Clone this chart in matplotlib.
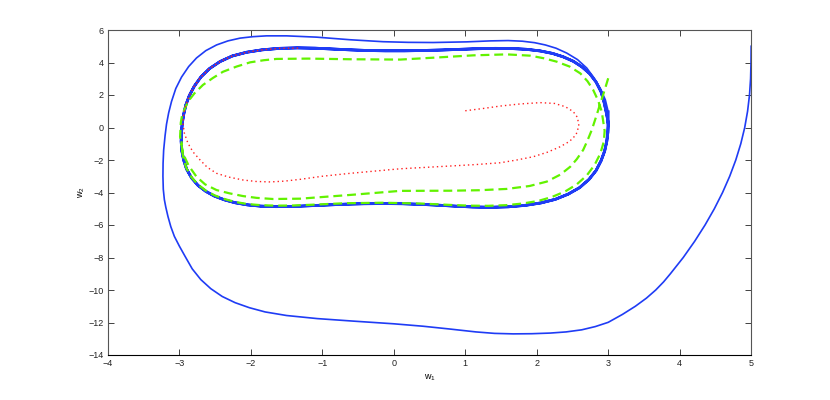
import matplotlib
matplotlib.use("Agg")
import matplotlib.pyplot as plt
import numpy as np

plt.rcParams['font.family'] = ['Liberation Sans', 'DejaVu Sans']
plt.rcParams['mathtext.default'] = 'regular'

# blue trajectory: approach from (5,5)
blue_approach_x = [5.00, 4.998, 4.992, 4.977, 4.95, 4.91, 4.855, 4.785, 4.70, 4.60, 4.485, 4.355, 4.21,
                   4.05, 3.87, 3.775, 3.665, 3.535, 3.38, 3.20, 3.00,
                   2.82, 2.63, 2.41, 2.19, 1.93, 1.67, 1.41, 1.15, 0.78, 0.41, 0.00,
                   -0.55, -1.07, -1.50, -1.80, -2.02, -2.22, -2.40, -2.56, -2.70, -2.82, -2.92, -3.00, -3.07,
                   -3.12, -3.16, -3.19, -3.21, -3.225, -3.23, -3.228, -3.22, -3.20, -3.18, -3.15, -3.11,
                   -3.05, -2.97, -2.87, -2.76, -2.63, -2.48, -2.32, -2.15, -1.97, -1.78, -1.50, -1.08,
                   -0.61, -0.15, 0.20, 0.55, 1.02, 1.35, 1.60, 1.80, 1.97, 2.12, 2.27, 2.42, 2.57, 2.70,
                   2.80, 2.89, 2.96, 3.00]
blue_approach_y = [5.00, 4.00, 3.00, 2.00, 1.00, 0.00, -1.00, -2.00, -3.00, -4.00, -5.00, -6.00, -7.00,
                   -8.00, -9.00, -9.50, -10.00, -10.50, -11.00, -11.50, -11.99,
                   -12.25, -12.45, -12.58, -12.65, -12.69, -12.70, -12.67, -12.58,
                   -12.40, -12.23, -12.08, -11.92, -11.76, -11.57, -11.35, -11.09, -10.78, -10.40, -9.92,
                   -9.36, -8.70, -7.93, -7.30, -6.70, -6.10, -5.47, -4.90, -4.44, -3.80, -3.00, -2.20,
                   -1.40, -0.50, 0.20, 0.90, 1.60, 2.40, 3.10, 3.75, 4.28, 4.73, 5.08, 5.33, 5.50, 5.59,
                   5.64, 5.64, 5.56, 5.40, 5.28, 5.24, 5.23, 5.27, 5.33, 5.35, 5.31, 5.22, 5.08, 4.88,
                   4.58, 4.18, 3.66, 3.06, 2.40, 1.70, 0.97]

# blue limit cycle (clockwise, starting on the right side)
cycle_x = [3.00, 2.995, 2.98, 2.95, 2.90, 2.83, 2.73, 2.60, 2.44, 2.26, 2.06, 1.84, 1.60, 1.35, 1.10, 0.86,
           0.62, 0.38, 0.12, -0.15, -0.42, -0.68, -0.94, -1.18, -1.42, -1.65, -1.86, -2.05, -2.22, -2.37,
           -2.51, -2.63, -2.74, -2.83, -2.90, -2.94, -2.965, -2.975, -2.97, -2.96, -2.94, -2.91, -2.86,
           -2.79, -2.70, -2.58, -2.43, -2.26, -2.06, -1.84, -1.60, -1.35, -1.10, -0.86, -0.62, -0.38,
           -0.12, 0.15, 0.42, 0.68, 0.94, 1.18, 1.42, 1.65, 1.86, 2.05, 2.22, 2.37, 2.51, 2.63, 2.74,
           2.83, 2.90, 2.94, 2.97, 2.99, 3.00]
cycle_y = [0.20, -0.30, -0.85, -1.45, -2.05, -2.65, -3.20, -3.70, -4.10, -4.42, -4.64, -4.79, -4.88, -4.91,
           -4.89, -4.84, -4.78, -4.73, -4.69, -4.68, -4.69, -4.72, -4.77, -4.82, -4.86, -4.87, -4.84,
           -4.76, -4.63, -4.45, -4.22, -3.93, -3.56, -3.10, -2.55, -2.00, -1.45, -0.85, -0.30, 0.25,
           0.80, 1.38, 1.97, 2.55, 3.10, 3.62, 4.06, 4.40, 4.63, 4.78, 4.87, 4.90, 4.88, 4.83, 4.78,
           4.74, 4.72, 4.72, 4.74, 4.77, 4.81, 4.85, 4.87, 4.86, 4.81, 4.71, 4.56, 4.35, 4.08, 3.74,
           3.32, 2.80, 2.20, 1.60, 1.00, 0.55, 0.20]

# green trajectory from (3,3)
green_x = [3.00, 2.95, 2.89, 2.83, 2.77, 2.71, 2.65, 2.56, 2.47, 2.33, 2.14, 1.90, 1.58, 1.20, 0.79, 0.09,
           -0.61, -1.31, -1.69, -1.92, -2.11, -2.30, -2.48, -2.64, -2.76, -2.87, -2.95, -2.99, -2.98, -2.96,
           -2.88, -2.79, -2.67, -2.53, -2.39, -2.20, -2.01, -1.82, -1.64, -1.20, -0.61, 0.09, 0.65, 1.11,
           1.58, 1.91, 2.10, 2.28, 2.46, 2.61, 2.71, 2.79, 2.86, 2.91, 2.95,
           2.94, 2.89, 2.81, 2.70, 2.56, 2.40, 2.21, 2.02, 1.80, 1.57, 1.32, 1.07, 0.82, 0.38, -0.15,
           -0.68, -1.18, -1.42, -1.65, -1.86, -2.05, -2.22, -2.37, -2.51, -2.63, -2.74, -2.83, -2.90,
           -2.94, -2.96, -2.97]
green_y = [3.03, 2.30, 1.49, 0.65, -0.15, -0.80, -1.38, -1.95, -2.41, -2.90, -3.33, -3.60, -3.78, -3.86,
           -3.89, -3.90, -4.15, -4.38, -4.40, -4.33, -4.22, -4.05, -3.85, -3.50, -3.03, -2.35, -1.59, -0.57,
           0.30, 0.80, 1.59, 2.10, 2.62, 3.05, 3.43, 3.75, 4.01, 4.14, 4.22, 4.24, 4.20, 4.18, 4.32, 4.44,
           4.50, 4.42, 4.26, 4.05, 3.75, 3.33, 2.85, 2.31, 1.65, 0.97, -0.20,
           -0.85, -1.60, -2.30, -2.95, -3.50, -3.93, -4.28, -4.52, -4.68, -4.78, -4.82, -4.81, -4.77,
           -4.68, -4.63, -4.66, -4.76, -4.80, -4.81, -4.78, -4.71, -4.58, -4.40, -4.17, -3.88, -3.51,
           -3.06, -2.52, -1.98, -1.43, -0.85]

# red trajectory from (1,1)
red_x = [1.00, 1.25, 1.49, 1.77, 2.05, 2.25, 2.40, 2.51, 2.57, 2.59, 2.55, 2.46, 2.33, 2.15, 1.95, 1.72,
         1.49, 1.15, 0.79, 0.09, -0.61, -1.00, -1.31, -1.53, -1.73, -1.93, -2.11, -2.31, -2.48, -2.61,
         -2.71, -2.81, -2.88, -2.93, -2.95, -2.94, -2.91, -2.86, -2.79, -2.70, -2.58, -2.43, -2.26,
         -2.06, -1.84, -1.60, -1.30]
red_y = [1.03, 1.17, 1.32, 1.45, 1.53, 1.48, 1.28, 0.98, 0.62, 0.10, -0.45, -0.85, -1.18, -1.52, -1.80,
         -2.00, -2.17, -2.28, -2.37, -2.54, -2.82, -3.00, -3.19, -3.30, -3.35, -3.32, -3.23, -3.05, -2.82,
         -2.45, -2.00, -1.50, -0.97, -0.35, 0.26, 0.80, 1.38, 1.97, 2.55, 3.10, 3.62, 4.06, 4.40, 4.63,
         4.78, 4.87, 4.89]

x_ticks = [-4, -3, -2, -1, 0, 1, 2, 3, 4, 5]
y_ticks = [-14, -12, -10, -8, -6, -4, -2, 0, 2, 4, 6]

fig = plt.figure(figsize=(8.3, 4.0), dpi=100)
ax = fig.add_axes([0.13, 0.1125, 0.775, 0.8125])

blue = '#1f3cf5'
ax.plot(blue_approach_x, blue_approach_y, color=blue, lw=1.2, solid_joinstyle='round')
cx = np.concatenate([blue_approach_x[-1:], cycle_x, cycle_x])
cy = np.concatenate([blue_approach_y[-1:], cycle_y, cycle_y])
ax.plot(cx, cy, color=blue, lw=2.0, solid_joinstyle='round')
ax.plot(green_x, green_y, color='#62f200', lw=1.6, linestyle=(0, (4, 2.2)))
ax.plot(red_x, red_y, color='#ff2020', lw=1.0, linestyle=(0, (1, 2.2)))

ax.set_xlim(-4, 5)
ax.set_ylim(-14, 6)
ax.set_xticks(x_ticks)
ax.set_yticks(y_ticks)
ax.set_xticklabels([str(v).replace('-', '\u2212') for v in x_ticks])
ax.set_yticklabels([str(v).replace('-', '\u2212') for v in y_ticks])
ax.tick_params(direction='in', length=4, width=0.6, labelsize=6.5, top=True, right=True,
               colors='#222222', pad=3)
for s in ax.spines.values():
    s.set_linewidth(0.8)
    s.set_color('#555555')
ax.spines['bottom'].set_color('#000000')

ax.set_xlabel('w$_1$', fontsize=6.5, labelpad=3)
ax.set_ylabel('w$_2$', fontsize=6.5, labelpad=1)

fig.savefig('out.png', dpi=100)
